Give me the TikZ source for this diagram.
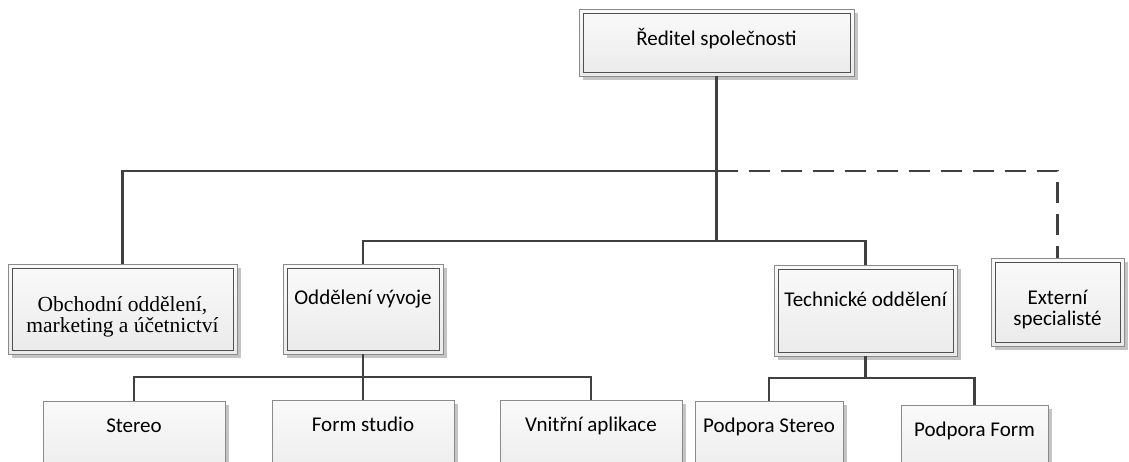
\documentclass[tikz,border=0pt]{standalone}
\usepackage{fontspec}
\setmainfont{Carlito}
\newfontfamily\serifbody{Liberation Serif}
\usetikzlibrary{shadows}
\definecolor{wiregray}{HTML}{404040}
\definecolor{rimgray}{HTML}{8A8A8A}
\definecolor{innergray}{HTML}{505050}
\definecolor{shadowgray}{HTML}{C4C4C4}
\begin{document}
\begin{tikzpicture}[x=1pt, y=-1pt,
  box/.style={draw=rimgray, line width=0.9pt, top color=black!2, bottom color=black!8,
    inner sep=0pt, align=center, font=\fontsize{21}{21.5}\selectfont,
    drop shadow={shadow xshift=3.5pt, shadow yshift=-3.5pt, fill=shadowgray, opacity=1}},
  dbox/.style={box, path picture={\draw[innergray, line width=0.9pt]
      ([shift={(4pt,-4pt)}]path picture bounding box.north west) rectangle
      ([shift={(-4pt,4pt)}]path picture bounding box.south east);}},
  leaf/.style={box, anchor=north, minimum height=80pt, text height=12pt, text depth=30pt},
  wire/.style={draw=wiregray, line width=2.6pt},
  extwire/.style={wire, dash pattern=on 21pt off 11pt}]
  \clip (0,0) rectangle (1129,461);
  \useasboundingbox (0,0) rectangle (1129,461);

  % management level
  \node[dbox, minimum width=275pt, minimum height=67pt, text height=13pt, text depth=8pt]
    (ceo) at (716.5,42.5) {Ředitel společnosti};

  % departments (the struts lower the two-line labels inside their boxes)
  \node[dbox, minimum width=229pt, minimum height=90pt,
        font=\serifbody\fontsize{21.5}{21}\selectfont]
    (obch) at (122.5,309) {\rule{0pt}{30pt}Obchodní oddělení,\\marketing a účetnictví};
  \node[dbox, minimum width=160pt, minimum height=90pt, text height=12pt, text depth=22pt]
    (vyv) at (363,309) {Oddělení vývoje};
  \node[dbox, minimum width=183pt, minimum height=91pt, text height=12pt, text depth=20pt]
    (tech) at (865.5,310.5) {Technické oddělení};
  \node[dbox, minimum width=133pt, minimum height=88pt]
    (ext) at (1057.5,302) {\rule{0pt}{29pt}Externí\\specialisté};

  % teams
  \node[leaf, minimum width=182pt] (stereo) at (134,401) {Stereo};
  \node[leaf, minimum width=182pt] (form) at (363,400) {Form studio};
  \node[leaf, minimum width=182pt] (vnitr) at (591,400) {Vnitřní aplikace};
  \node[leaf, minimum width=148pt] (pstereo) at (769,401) {Podpora Stereo};
  \node[leaf, minimum width=147pt] (pform) at (974.5,405) {Podpora Form};

  % junction points of the tree
  \coordinate (j1) at (716.5,171);
  \coordinate (j2) at (716.5,241);
  \coordinate (j3) at (363,377);
  \coordinate (j4) at (865.5,378);

  % connectors
  \draw[wire] (ceo.south) -- (j1) -- (j2);
  \draw[wire] (j1) -| (obch.north);
  \draw[wire] (j2) -| (vyv.north);
  \draw[wire] (j2) -| (tech.north);
  \draw[extwire] (j1) -| (ext.north);

  \draw[wire] (vyv.south) -- (form.north);
  \draw[wire] (j3) -| (stereo.north);
  \draw[wire] (j3) -| (vnitr.north);

  \draw[wire] (tech.south) -- (j4);
  \draw[wire] (j4) -| (pstereo.north);
  \draw[wire] (j4) -| (pform.north);
\end{tikzpicture}
\end{document}
